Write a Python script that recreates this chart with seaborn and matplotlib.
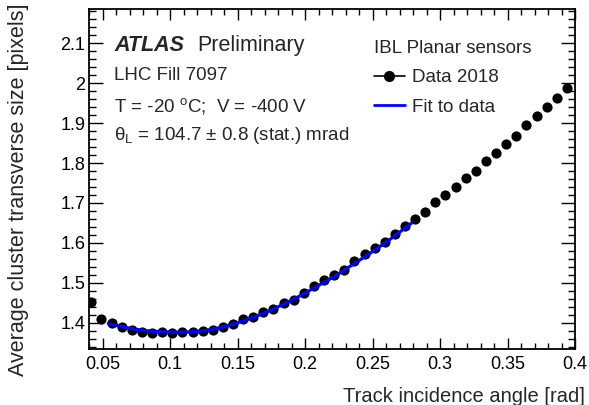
import numpy as np
import pandas as pd
import matplotlib
matplotlib.use("Agg")
import matplotlib.pyplot as plt
from matplotlib.lines import Line2D
from matplotlib.ticker import FixedLocator, MultipleLocator
import seaborn as sns

# ---- data ----
angle = [0.0415, 0.049, 0.0565, 0.064, 0.0715, 0.079, 0.0865, 0.094, 0.1015, 0.109,
         0.1165, 0.124, 0.1315, 0.139, 0.1465, 0.154, 0.1615, 0.169, 0.1765, 0.184,
         0.1915, 0.199, 0.2065, 0.214, 0.2215, 0.229, 0.2365, 0.244, 0.2515, 0.259,
         0.2665, 0.274, 0.2815, 0.289, 0.2965, 0.304, 0.3115, 0.319, 0.3265, 0.334,
         0.3415, 0.349, 0.3565, 0.364, 0.3715, 0.379, 0.3865, 0.394]
cluster_size = [1.451, 1.408, 1.400, 1.388, 1.382, 1.377, 1.374, 1.377, 1.375, 1.376,
                1.376, 1.379, 1.382, 1.390, 1.397, 1.408, 1.414, 1.426, 1.434, 1.450,
                1.458, 1.475, 1.492, 1.507, 1.520, 1.532, 1.554, 1.571, 1.588, 1.603,
                1.622, 1.643, 1.661, 1.678, 1.703, 1.720, 1.739, 1.762, 1.780, 1.804,
                1.825, 1.848, 1.868, 1.895, 1.919, 1.940, 1.964, 1.989]

fit_angle = [0.054, 0.065, 0.075, 0.085, 0.095, 0.105, 0.115, 0.125, 0.135, 0.145,
             0.155, 0.165, 0.175, 0.185, 0.195, 0.205, 0.215, 0.225, 0.235, 0.245,
             0.255, 0.265, 0.279]
fit_size = [1.398, 1.389, 1.383, 1.379, 1.377, 1.376, 1.377, 1.380, 1.386, 1.395,
            1.405, 1.418, 1.432, 1.448, 1.465, 1.484, 1.503, 1.523, 1.545, 1.567,
            1.590, 1.614, 1.650]

x_ticks = [0.05, 0.1, 0.15, 0.2, 0.25, 0.3, 0.35, 0.4]
x_tick_labels = ["0.05", "0.1", "0.15", "0.2", "0.25", "0.3", "0.35", "0.4"]
y_ticks = [1.4, 1.5, 1.6, 1.7, 1.8, 1.9, 2.0, 2.1]
y_tick_labels = ["1.4", "1.5", "1.6", "1.7", "1.8", "1.9", "2", "2.1"]

data_df = pd.DataFrame({"angle": angle, "size": cluster_size})
fit_df = pd.DataFrame({"angle": fit_angle, "size": fit_size})

# ---- style ----
sns.set_style("ticks")
plt.rcParams["font.family"] = ["Liberation Sans", "DejaVu Sans"]
plt.rcParams["mathtext.fontset"] = "custom"
plt.rcParams["mathtext.rm"] = "Liberation Sans"
plt.rcParams["mathtext.it"] = "Liberation Sans:italic"
plt.rcParams["mathtext.bf"] = "Liberation Sans:bold"

W, H = 589, 405
fig = plt.figure(figsize=(W / 100, H / 100), dpi=100)
L, R, T, B = 89.3, 575, 9, 349
ax = fig.add_axes([L / W, 1 - B / H, (R - L) / W, (B - T) / H])

def fx(px):
    return px / W

def fy(py):
    return 1 - py / H

# data points, then the fit drawn over them
sns.scatterplot(data=data_df, x="angle", y="size", ax=ax, color="black",
                s=54, edgecolor="black", linewidth=0, zorder=3, legend=False)
sns.lineplot(data=fit_df, x="angle", y="size", ax=ax, color="#0000ff",
             linewidth=2.3, zorder=4, legend=False)

ax.set_xlim(0.04, 0.40)
ax.set_ylim(1.334, 2.186)
ax.xaxis.set_major_locator(FixedLocator(x_ticks))
ax.set_xticklabels(x_tick_labels)
ax.yaxis.set_major_locator(FixedLocator(y_ticks))
ax.set_yticklabels(y_tick_labels)
ax.xaxis.set_minor_locator(MultipleLocator(0.01))
ax.yaxis.set_minor_locator(MultipleLocator(0.02))
ax.set_xlabel("")
ax.set_ylabel("")

ax.tick_params(axis="both", which="both", direction="in", top=True, right=True,
               colors="black", labelsize=13, width=1.0)
ax.tick_params(axis="x", which="major", length=8, pad=5)
ax.tick_params(axis="x", which="minor", length=4)
ax.tick_params(axis="y", which="major", length=10, pad=3)
ax.tick_params(axis="y", which="minor", length=5)
for sp in ax.spines.values():
    sp.set_linewidth(1.3)
    sp.set_color("black")

# axis titles
fig.text(fx(585), fy(396), "Track incidence angle [rad]", ha="right", va="center",
         fontsize=14.5)
fig.text(fx(19), fy(3), "Average cluster transverse size [pixels]", ha="center",
         va="top", rotation=90, fontsize=15.5)

# annotations
fig.text(fx(114), fy(51), "ATLAS", fontsize=15.5, fontweight="bold",
         style="italic", va="baseline", ha="left")
fig.text(fx(197), fy(51), "Preliminary", fontsize=15.5, va="baseline", ha="left")
fig.text(fx(114), fy(80), "LHC Fill 7097", fontsize=13.5, va="baseline")
fig.text(fx(114), fy(111), "T = -20 $^{\\rm o}$C;  V = -400 V", fontsize=13.5,
         va="baseline")
fig.text(fx(114), fy(140), "θ$_{\\rm L}$ = 104.7 ± 0.8 (stat.) mrad", fontsize=13.5,
         va="baseline")

# legend
handles = [Line2D([], [], color="black", marker="o", markersize=7.0, linewidth=1.2),
           Line2D([], [], color="#0000ff", linewidth=2.0)]
leg = ax.legend(handles, ["Data 2018", "Fit to data"], title="IBL Planar sensors",
                loc="upper left", bbox_to_anchor=(fx(374), fy(40)),
                bbox_transform=fig.transFigure, frameon=False, fontsize=13.5,
                title_fontsize=13.5, handlelength=1.65, handletextpad=0.35,
                labelspacing=0.65, borderpad=0, borderaxespad=0, alignment="left")

fig.savefig("out.png", dpi=100)
